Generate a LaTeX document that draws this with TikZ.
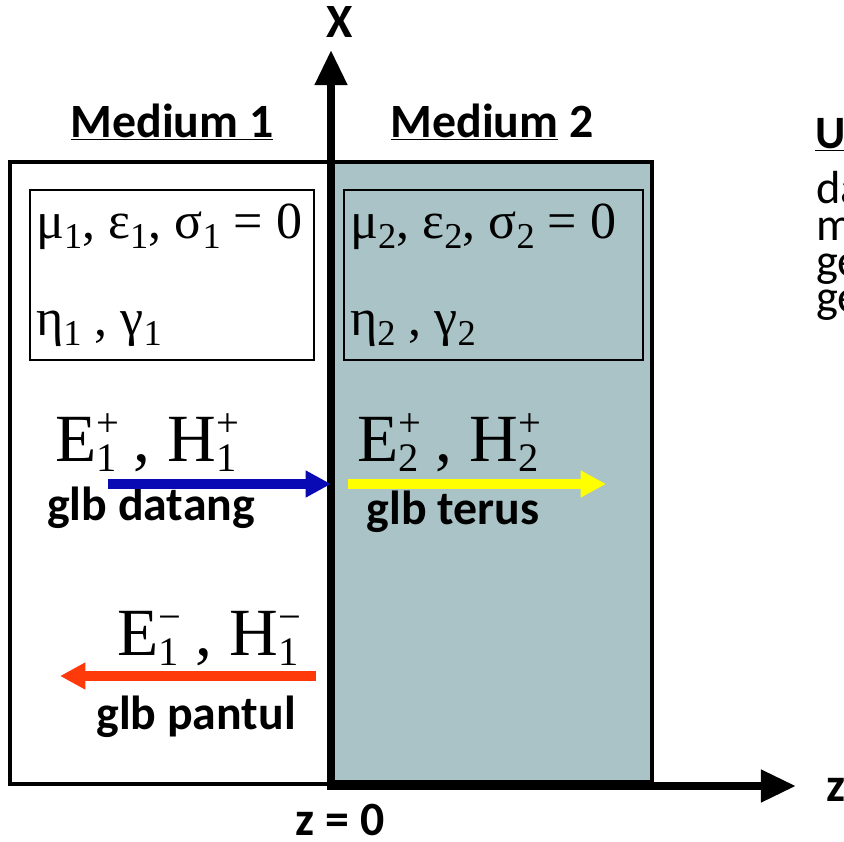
\documentclass[tikz,border=0pt]{standalone}
\usepackage{fontspec}
\setmainfont{Carlito}
\newfontfamily\trfont{Liberation Serif}
\usepackage{xcolor}
\usetikzlibrary{arrows.meta,positioning}

\definecolor{medtwo}{HTML}{A9C3C6}
\definecolor{incblue}{HTML}{0A0AB4}
\definecolor{refred}{HTML}{FF3A0A}
\definecolor{transyel}{HTML}{FFFF00}

% field with sign on top and medium index below
\newcommand{\fld}[3]{#1\rlap{\raisebox{.36em}{\scalebox{.6}{#2}}}\raisebox{-.16em}{\scalebox{.6}{#3}}}
\newcommand{\idx}[1]{\raisebox{-.2em}{\scalebox{.7}{#1}}}

\begin{document}
\begin{tikzpicture}[x=0.025cm, y=-0.025cm,
  lbl/.style={font=\fontsize{34}{40}\selectfont\bfseries, inner sep=0pt},
  note/.style={font=\fontsize{33}{40}\selectfont, inner sep=0pt, anchor=base west},
  prop/.style={font=\fontsize{37}{42}\selectfont\trfont, inner sep=0pt, anchor=base west},
  field/.style={font=\fontsize{48}{56}\selectfont\trfont, inner sep=0pt, anchor=base west},
  propbox/.style={draw, line width=2.1pt},
  axis/.style={line width=5.7pt, -{Triangle[length=25pt, width=22pt]}},
  wave/.style={line width=7pt, -{Triangle[length=18pt, width=18pt]}}]
  \useasboundingbox (0,0) rectangle (844,842);

  % media
  \fill[medtwo] (331,162) rectangle (652,782);
  \draw[line width=3.5pt] (331,162) -- (10,162) -- (10,784) -- (331,784);
  \draw[line width=3.5pt] (331,162) rectangle (652,782);
  \draw[propbox] (30,190) rectangle (314,360);
  \draw[propbox] (344,190) rectangle (643,360);

  % axes
  \coordinate (o) at (331,786);
  \coordinate (xtip) at (331,50);
  \coordinate (ztip) at (796,786);
  \draw[axis] (o) -- (xtip);
  \draw[axis, shorten <=-2.8pt] (o) -- (ztip);
  \node[lbl] (xlab) at (340,22) {X};
  \node[lbl, anchor=west] (zlab) at (826,790) {z};
  \node[lbl] (zero) at (340,820) {z = 0};

  % labels above
  \node[lbl] (med1) at (172,122) {\underline{Medium 1}};
  \node[lbl] (med2) at (492,122) {\underline{Medium} 2};

  % constants
  \node[prop] (mu1) at (36,238) {μ\idx{1}, ε\idx{1}, σ\idx{1} = 0};
  \node[prop] (eta1) at (36,335) {η\idx{1} , γ\idx{1}};
  \node[prop] (mu2) at (350,238) {μ\idx{2}, ε\idx{2}, σ\idx{2} = 0};
  \node[prop] (eta2) at (350,335) {η\idx{2} , γ\idx{2}};

  % waves
  \node[field] (inc) at (55,461) {\fld{E}{+}{1} , \fld{H}{+}{1}};
  \node[lbl] (incl) at (151,508) {glb datang};
  \node[field] (tra) at (357,461) {\fld{E}{+}{2} , \fld{H}{+}{2}};
  \node[lbl] (tral) at (453,512) {glb terus};
  \node[field] (ref) at (117,655) {\fld{E}{−}{1} , \fld{H}{−}{1}};
  \node[lbl] (refl) at (196,717) {glb pantul};

  \coordinate (inc0) at (108,484);
  \coordinate (inc1) at (331,484);
  \coordinate (tra0) at (348,484);
  \coordinate (tra1) at (606,484);
  \coordinate (ref0) at (316,676);
  \coordinate (ref1) at (60,676);
  \draw[wave, incblue] (inc0) -- (inc1);
  \draw[wave, transyel] (tra0) -- (tra1);
  \draw[wave, refred] (ref0) -- (ref1);

  % cut-off note on the right
  \node[note] (note0) at (815,148) {\underline{\textbf{U}}};
  \foreach \t/\y [count=\i] in {da/203, m/240, ge/276, ge/312}
    \node[note] (note\i) at (816,\y) {\t};
\end{tikzpicture}
\end{document}
